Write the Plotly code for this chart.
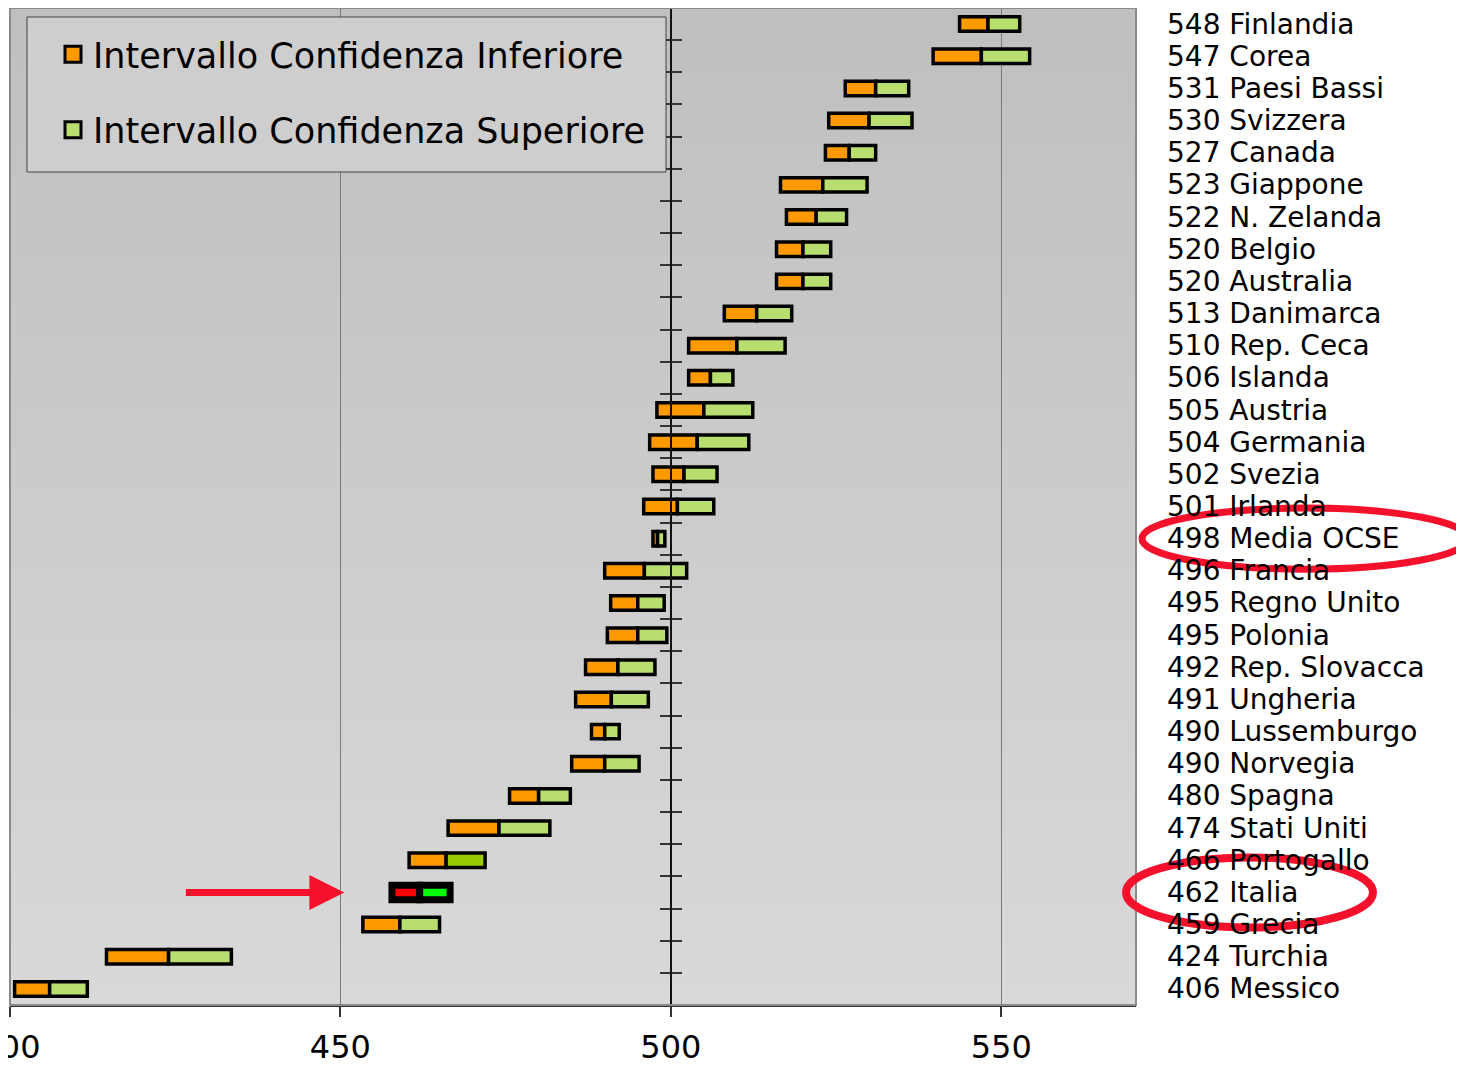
import plotly.graph_objects as go

# ---------------- data ----------------
countries = ["Finlandia", "Corea", "Paesi Bassi", "Svizzera", "Canada", "Giappone",
             "N. Zelanda", "Belgio", "Australia", "Danimarca", "Rep. Ceca", "Islanda",
             "Austria", "Germania", "Svezia", "Irlanda", "Media OCSE", "Francia",
             "Regno Unito", "Polonia", "Rep. Slovacca", "Ungheria", "Lussemburgo",
             "Norvegia", "Spagna", "Stati Uniti", "Portogallo", "Italia", "Grecia",
             "Turchia", "Messico"]
scores = [548, 547, 531, 530, 527, 523, 522, 520, 520, 513, 510, 506, 505, 504, 502,
          501, 498, 496, 495, 495, 492, 491, 490, 490, 480, 474, 466, 462, 459, 424, 406]
ci_low = [543.7, 539.7, 526.4, 523.9, 523.4, 516.6, 517.5, 516.0, 516.0, 508.1, 502.7,
          502.7, 497.9, 496.8, 497.3, 495.9, 497.3, 490.0, 490.9, 490.4, 487.1, 485.6,
          488.0, 485.0, 475.6, 466.3, 460.4, 457.8, 453.4, 414.6, 400.7]
ci_high = [552.8, 554.3, 536.0, 536.5, 531.0, 529.7, 526.6, 524.2, 524.2, 518.3, 517.3,
           509.4, 512.4, 511.8, 507.0, 506.5, 499.1, 502.4, 499.0, 499.4, 497.6, 496.6,
           492.2, 495.2, 484.8, 481.7, 471.9, 466.6, 465.0, 433.5, 411.7]
x_ticks = [400, 450, 500, 550]
X_RANGE = [400, 570.4]
AXIS_CROSS = 500
HIGHLIGHT = "Italia"
SOLID_GREEN = "Portogallo"
CIRCLED = ["Media OCSE", "Italia"]

# ---------------- styling ----------------
ORANGE = "#ff9900"
GREEN = "#b9de70"
FONT = "DejaVu Sans"

# page geometry (the page has an 8px body margin)
FIG_W, FIG_H = 1456, 1061
M_L, M_R, M_T, M_B = 2, 328, 0, 64
PW = FIG_W - M_L - M_R
PH = FIG_H - M_T - M_B
OFF = 8


def px_x(p):  # page pixel -> paper x
    return (p - OFF - M_L) / PW


def px_y(p):  # page pixel -> paper y
    return 1 - (p - OFF - M_T) / PH


n = len(countries)
ypos = [n - 1 - i for i in range(n)]
ymap = dict(zip(countries, ypos))

low_colors = ["#ff0000" if c == HIGHLIGHT else ORANGE for c in countries]
up_colors = ["#00ff00" if c == HIGHLIGHT else ("#99cc00" if c == SOLID_GREEN else GREEN)
             for c in countries]
line_w = [7 if c == HIGHLIGHT else 3.5 for c in countries]

fig = go.Figure()

fig.add_trace(go.Bar(
    y=ypos, x=[s - l for s, l in zip(scores, ci_low)], base=ci_low,
    orientation="h", width=0.45, yaxis="y2",
    marker=dict(color=low_colors, line=dict(color="black", width=line_w)),
    showlegend=False, name="Intervallo Confidenza Inferiore",
))
fig.add_trace(go.Bar(
    y=ypos, x=[h - s for s, h in zip(scores, ci_high)], base=scores,
    orientation="h", width=0.45, yaxis="y2",
    marker=dict(color=up_colors, line=dict(color="black", width=line_w)),
    showlegend=False, name="Intervallo Confidenza Superiore",
))

# legend proxies
for nm, col, grp in [("Intervallo Confidenza Inferiore", ORANGE, "a"),
                     ("Intervallo Confidenza Superiore", GREEN, "b")]:
    fig.add_trace(go.Scatter(
        x=[None], y=[None], mode="markers", name=nm, legendgroup=grp,
        marker=dict(symbol="square", size=16, color=col, line=dict(color="black", width=3)),
    ))

# labels on the right
annotations = []
for c, s, y in zip(countries, scores, ypos):
    annotations.append(dict(
        x=1, xref="paper", y=y, yref="y", xshift=29, xanchor="left",
        yanchor="middle", text=f"{s} {c}", showarrow=False,
        font=dict(family=FONT, size=28, color="black"),
    ))

# arrow pointing to Italia
annotations.append(dict(
    x=450.6, y=ymap[HIGHLIGHT], xref="x", yref="y", ax=-160, ay=0,
    showarrow=True, arrowhead=2, arrowsize=1, arrowwidth=7, arrowcolor="#f5102c", text="",
))

shapes = []
# vertical gradient of the plot area (decorative bands)
NB = 100
c_top, c_bot = 191, 217
for i in range(NB):
    g = round(c_top + (c_bot - c_top) * (i + 0.5) / NB)
    shapes.append(dict(type="rect", xref="paper", yref="paper", x0=0, x1=1,
                       y0=1 - (i + 1) / NB, y1=1 - i / NB + 0.0005,
                       fillcolor=f"rgb({g},{g},{g})", line=dict(width=0), layer="below"))
# plot frame
shapes.append(dict(type="rect", xref="paper", yref="paper", x0=0, x1=1, y0=0, y1=1,
                   line=dict(color="#8a8a8a", width=2), layer="above"))
# legend box
shapes.append(dict(type="rect", xref="paper", yref="paper",
                   x0=px_x(27), x1=px_x(666), y0=px_y(172), y1=px_y(17),
                   fillcolor="#cecece", line=dict(color="#444444", width=1), layer="above"))
# right page frame line
shapes.append(dict(type="line", xref="paper", yref="paper", x0=px_x(1461), x1=px_x(1461),
                   y0=px_y(1069), y1=px_y(0), line=dict(color="black", width=2)))
ell = {"Media OCSE": (1142, 1468, 0.95, 7), "Italia": (1126, 1373, 1.09, 8)}
for c in CIRCLED:
    p0, p1, hh, lw = ell[c]
    shapes.append(dict(type="circle", xref="paper", yref="y",
                       x0=px_x(p0), x1=px_x(p1), y0=ymap[c] - hh, y1=ymap[c] + hh,
                       line=dict(color="#f5102c", width=lw)))

cross = (AXIS_CROSS - X_RANGE[0]) / (X_RANGE[1] - X_RANGE[0])

fig.update_layout(
    width=FIG_W, height=FIG_H,
    margin=dict(l=M_L, r=M_R, t=M_T, b=M_B),
    paper_bgcolor="white", plot_bgcolor="#cccccc",
    barmode="overlay",
    template="none",
    font=dict(family=FONT, color="black"),
    showlegend=True,
    legend=dict(
        x=px_x(53), y=px_y(25), xanchor="left", yanchor="top",
        bgcolor="rgba(0,0,0,0)", borderwidth=0,
        font=dict(family=FONT, size=35, color="black"),
        traceorder="grouped", tracegroupgap=27,
    ),
    xaxis=dict(
        range=X_RANGE, tickvals=x_ticks, ticktext=[str(v) for v in x_ticks],
        showgrid=True, gridcolor="#7a7a7a", gridwidth=1, zeroline=False,
        showline=True, linecolor="#333333", linewidth=2,
        ticks="outside", ticklen=10, tickcolor="#333333", tickwidth=1.5,
        tickfont=dict(family=FONT, size=32, color="black"), ticklabelstandoff=3,
        ticklabeloverflow="allow", automargin=False, fixedrange=True,
    ),
    yaxis=dict(
        range=[-0.5, n - 0.5], tick0=-0.5, dtick=1, showticklabels=False,
        showgrid=False, zeroline=False, anchor="free", position=cross, side="left",
        showline=True, linecolor="#111111", linewidth=1.5, layer="above traces",
        ticks="outside", ticklen=10, tickcolor="#333333", tickwidth=1.5,
        automargin=False, fixedrange=True,
    ),
    yaxis2=dict(
        range=[-0.5, n - 0.5], tick0=-0.5, dtick=1, showticklabels=False,
        showgrid=False, zeroline=False, anchor="free", position=cross, side="right",
        overlaying="y", showline=True, linecolor="#111111", linewidth=1.5,
        layer="above traces",
        ticks="outside", ticklen=10, tickcolor="#333333", tickwidth=1.5,
        automargin=False, fixedrange=True,
    ),
    annotations=annotations,
    shapes=shapes,
)

fig.write_html("out.html")
